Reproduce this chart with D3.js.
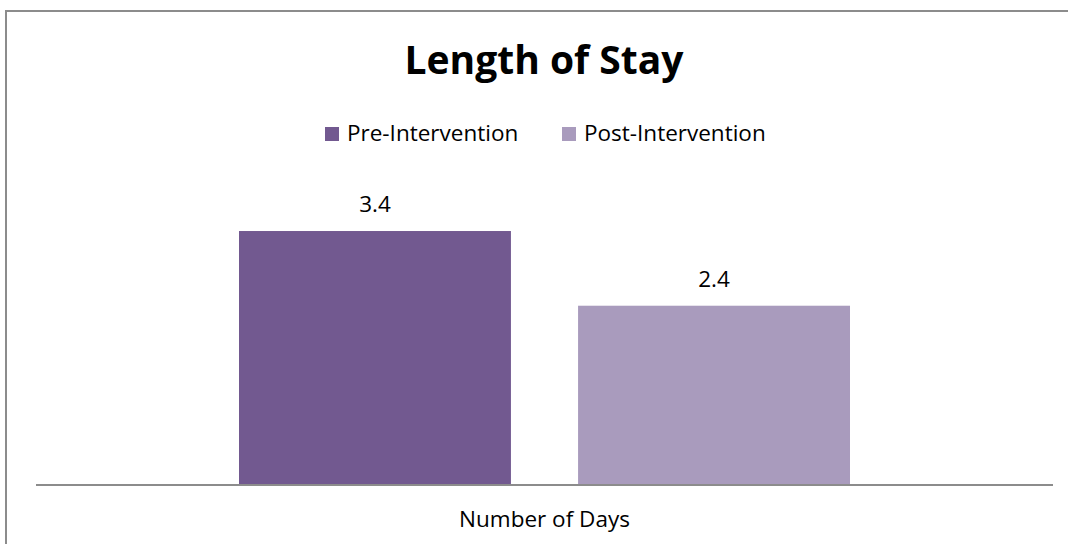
<!DOCTYPE html>
<html>
<head>
<meta charset="utf-8">
<script src="https://cdn.jsdelivr.net/npm/d3@7"></script>
<style>
  body { margin: 0; background: #fff; }
  svg { display: block; font-family: "Open Sans", "Noto Sans", sans-serif; }
</style>
</head>
<body>
<div id="chart"></div>
<script>
// data
var categories = ["Number of Days"];
var seriesNames = ["Pre-Intervention", "Post-Intervention"];
var seriesValues = [3.4, 2.4];
var seriesColors = ["#725990", "#a99bbd"];

var width = 1068;
var height = 544;

var svg = d3.select("#chart")
    .append("svg")
    .attr("width", width)
    .attr("height", height);

// outer frame
svg.append("rect")
    .attr("x", 6)
    .attr("y", 11)
    .attr("width", 1080)
    .attr("height", 600)
    .attr("fill", "none")
    .attr("stroke", "#8c8c8c")
    .attr("stroke-width", 2);

var plotLeft = 36, plotRight = 1053, baseY = 485;

var x0 = d3.scaleBand()
    .domain(categories)
    .range([plotLeft, plotRight])
    .paddingInner(0.2494)
    .paddingOuter(0.2494);

var x1 = d3.scaleBand()
    .domain(seriesNames)
    .range([0, x0.bandwidth()])
    .paddingInner(0.198);

var y = d3.scaleLinear()
    .domain([0, 4])
    .range([baseY, baseY - 4 * 74.7]);

// title
svg.append("text")
    .attr("x", 544)
    .attr("y", 74)
    .attr("text-anchor", "middle")
    .attr("font-size", 39)
    .attr("font-weight", "bold")
    .text("Length of Stay");

// legend
var legend = svg.append("g");
var legendX = [325, 562];
seriesNames.forEach(function (s, i) {
    legend.append("rect")
        .attr("x", legendX[i])
        .attr("y", 127)
        .attr("width", 14)
        .attr("height", 14)
        .attr("fill", seriesColors[i]);
    legend.append("text")
        .attr("x", legendX[i] + 22)
        .attr("y", 141)
        .attr("font-size", 22.5)
        .attr("fill", "#000")
        .text(s);
});

// bars
var group = svg.selectAll("g.cat")
    .data(categories)
    .enter().append("g")
    .attr("class", "cat")
    .attr("transform", d => "translate(" + x0(d) + ",0)");

var barData = seriesNames.map((s, i) => ({ name: s, value: seriesValues[i], color: seriesColors[i] }));

group.selectAll("rect")
    .data(barData)
    .enter().append("rect")
    .attr("x", d => x1(d.name))
    .attr("y", d => y(d.value))
    .attr("width", x1.bandwidth())
    .attr("height", d => y(0) - y(d.value))
    .attr("fill", d => d.color);

group.selectAll("text.lbl")
    .data(barData)
    .enter().append("text")
    .attr("class", "lbl")
    .attr("x", d => x1(d.name) + x1.bandwidth() / 2)
    .attr("y", d => y(d.value) - 19)
    .attr("text-anchor", "middle")
    .attr("font-size", 22.5)
    .text(d => d.value.toFixed(1));

// category axis
var xAxis = d3.axisBottom(x0).tickSize(0);
var axisG = svg.append("g")
    .attr("transform", "translate(0," + baseY + ")")
    .call(xAxis);
axisG.select(".domain")
    .attr("stroke", "#8c8c8c")
    .attr("stroke-width", 2)
    .attr("d", "M" + plotLeft + ",0H" + plotRight);
axisG.selectAll("text")
    .attr("y", 42)
    .attr("dy", 0)
    .attr("font-size", 22.5)
    .attr("font-family", "\"Open Sans\", sans-serif")
    .attr("fill", "#000");
</script>
</body>
</html>
